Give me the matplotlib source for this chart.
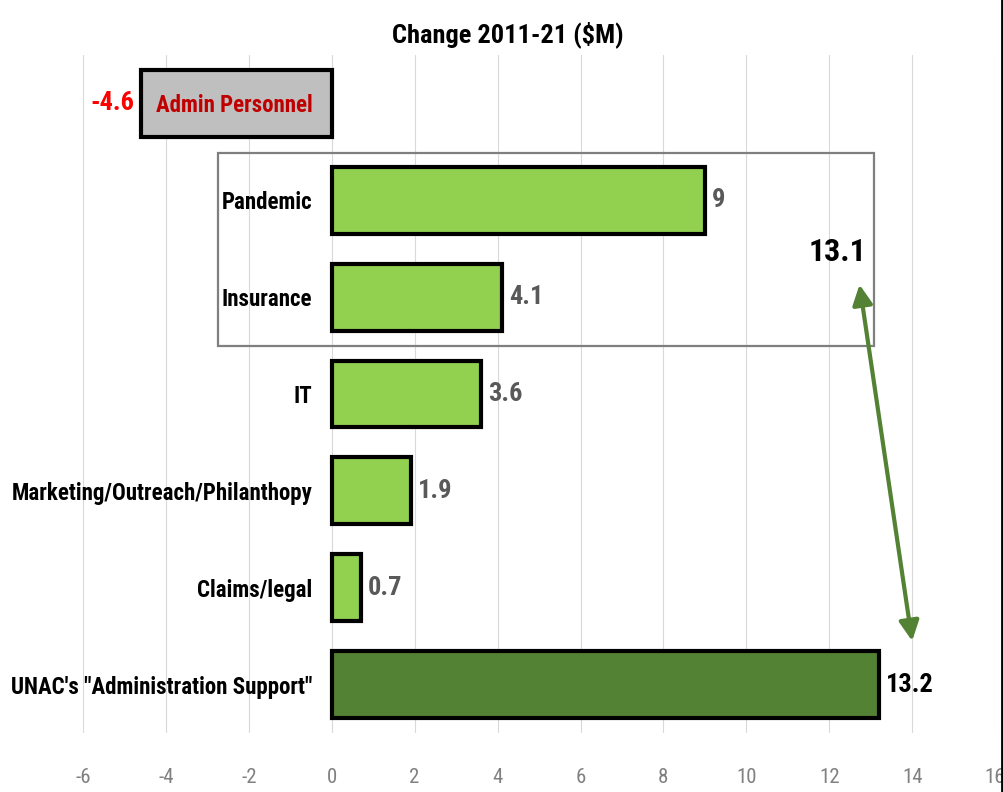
import numpy as np
import matplotlib
matplotlib.use("Agg")
import matplotlib.pyplot as plt
from matplotlib import font_manager as fm
from matplotlib.patches import Rectangle

# pick a narrow font if one is there
narrow = 'DejaVu Sans'
for name in ['Roboto Condensed', 'PT Sans Narrow', 'Open Sans Condensed', 'Archivo Narrow',
             'Liberation Sans Narrow']:
    try:
        fm.findfont(fm.FontProperties(family=name), fallback_to_default=False)
        narrow = name
        break
    except ValueError:
        pass
plt.rcParams['font.family'] = [narrow, 'DejaVu Sans']

# data (top to bottom)
categories = ['Admin Personnel', 'Pandemic', 'Insurance', 'IT',
              'Marketing/Outreach/Philanthopy', 'Claims/legal',
              'UNAC\'s "Administration Support"']
values = [-4.6, 9, 4.1, 3.6, 1.9, 0.7, 13.2]
bar_colors = ['#BFBFBF', '#92D050', '#92D050', '#92D050', '#92D050', '#92D050', '#548235']
label_colors = ['#FF0000', '#595959', '#595959', '#595959', '#595959', '#595959', '#000000']
xticks = [-6, -4, -2, 0, 2, 4, 6, 8, 10, 12, 14, 16]
boxed = ['Pandemic', 'Insurance']
boxed_total = 13.1

fig = plt.figure(figsize=(10.04, 7.92), dpi=100)
ax = fig.add_axes([0.0827, 0.0745, 0.9084, 0.856])
ax.spines['left'].set_position(('data', 0))

y = np.arange(len(categories))
ax.barh(y, values, height=0.69, color=bar_colors, edgecolor='black', linewidth=3, zorder=3)

ax.set_xlim(-6, 16)
ax.set_ylim(len(categories) - 0.5, -0.5)
ax.set_xticks(xticks)
ax.set_xticklabels([str(t) for t in xticks], fontsize=15, color='#808080')
ax.set_yticks(y)
ax.set_yticklabels(categories, fontsize=16.5, fontweight='bold')
ax.tick_params(axis='both', length=0)
ax.tick_params(axis='y', pad=14)
ax.tick_params(axis='x', pad=25)
ax.get_yticklabels()[0].set_color('#C00000')
for s in ax.spines.values():
    s.set_visible(False)
ax.grid(axis='x', color='#D9D9D9', linewidth=0.8, zorder=0)
ax.set_axisbelow(True)
ax.yaxis.set_zorder(4)

# data labels
for yi, v, c in zip(y, values, label_colors):
    if v < 0:
        ax.annotate(f'{v:g}', (v, yi), xytext=(-5, 0), textcoords='offset points',
                    ha='right', va='center', fontsize=19, fontweight='bold', color=c)
    else:
        ax.annotate(f'{v:g}', (v, yi), xytext=(5, 0), textcoords='offset points',
                    ha='left', va='center', fontsize=19, fontweight='bold', color=c)

# box around pandemic + insurance
i0 = categories.index(boxed[0])
i1 = categories.index(boxed[1])
box = Rectangle((-2.74, i0 - 0.49), boxed_total + 2.74 - 0.03, (i1 - i0) + 0.99,
                fill=False, edgecolor='#7F7F7F', linewidth=1.6, zorder=4)
ax.add_patch(box)
ax.text(boxed_total - 0.2, (i0 + i1) / 2 + 0.03, f'{boxed_total:g}', ha='right', va='center',
        fontsize=23, fontweight='bold', color='black', zorder=5)

# arrow linking the two totals
ax.annotate('', xy=(12.73, 1.87), xytext=(14.0, 5.55),
            arrowprops=dict(arrowstyle='<|-|>', color='#548235', lw=3,
                            mutation_scale=30, shrinkA=0, shrinkB=0), zorder=6)

fig.text(0.506, 1 - 35 / 792, 'Change 2011-21 ($M)', ha='center', va='center',
         fontsize=19, fontweight='bold')

fig.add_artist(plt.Line2D([0.998, 0.998], [0, 1], color='black', linewidth=2,
                          transform=fig.transFigure))

fig.savefig('out.png', dpi=100)
